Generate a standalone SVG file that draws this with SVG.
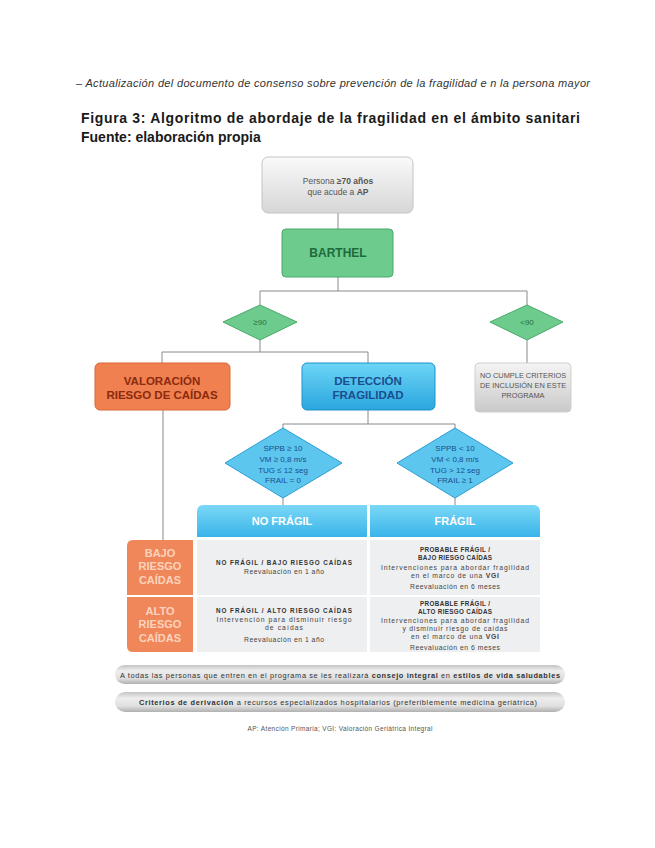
<svg xmlns="http://www.w3.org/2000/svg" width="655" height="848" viewBox="0 0 655 848">
<defs>
<linearGradient id="gTop" x1="0" y1="0" x2="0" y2="1"><stop offset="0" stop-color="#fafafa"/><stop offset="1" stop-color="#d6d6d6"/></linearGradient>
<linearGradient id="gGray" x1="0" y1="0" x2="0" y2="1"><stop offset="0" stop-color="#f4f4f4"/><stop offset="1" stop-color="#c9c9c9"/></linearGradient>
<linearGradient id="gBlue" x1="0" y1="0" x2="0" y2="1"><stop offset="0" stop-color="#6dd5f7"/><stop offset="1" stop-color="#2aa6de"/></linearGradient>
<linearGradient id="gHead" x1="0" y1="0" x2="0" y2="1"><stop offset="0" stop-color="#7bd8f6"/><stop offset="1" stop-color="#39b4e9"/></linearGradient>
<linearGradient id="gBar" x1="0" y1="0" x2="0" y2="1"><stop offset="0" stop-color="#c4c4c4"/><stop offset="0.3" stop-color="#ededed"/><stop offset="0.7" stop-color="#e0e0e0"/><stop offset="1" stop-color="#b0b0b0"/></linearGradient>
<style>
text{font-family:"Liberation Sans",Arial,sans-serif;text-anchor:middle;dominant-baseline:central}
.conn{stroke:#8a8a8a;stroke-width:1;fill:none}
.b{font-weight:bold}
.cell{fill:#eeeff1}
.dg{fill:#6dcb8d;stroke:#4aa96b;stroke-width:1}
.db{fill:#5cc6ee;stroke:#2d9dd4;stroke-width:1}
.dbt{font-size:8px;fill:#1b4e8c}
.orh{font-size:11px;font-weight:bold;fill:#fcd3bd}
.rt{font-size:6.8px;fill:#444}
.rb{font-size:6.3px;font-weight:bold;fill:#333}
</style>
</defs>
<rect width="655" height="848" fill="#ffffff"/>

<g id="header">
<text x="76" y="83" style="text-anchor:start;font-style:italic;font-size:11px;fill:#333" textLength="514" lengthAdjust="spacing">– Actualización del documento de consenso sobre prevención de la fragilidad e n la persona mayor</text>
<text x="81" y="118" style="text-anchor:start;font-weight:900;font-size:14px;fill:#1a1a1a" textLength="499" lengthAdjust="spacing">Figura 3: Algoritmo de abordaje de la fragilidad en el ámbito sanitari</text>
<text x="81" y="137" style="text-anchor:start;font-weight:900;font-size:14px;fill:#1a1a1a">Fuente: elaboración propia</text>
</g>

<g id="connectors">
<path class="conn" d="M338 213V229"/>
<path class="conn" d="M338 277V291"/>
<path class="conn" d="M260 305V291H527V305"/>
<path class="conn" d="M260 340V352"/>
<path class="conn" d="M162 363V352H368V363"/>
<path class="conn" d="M527 340V363"/>
<path class="conn" d="M163 410V540"/>
<path class="conn" d="M368 410V424"/>
<path class="conn" d="M283 428V424H455V428"/>
<path class="conn" d="M283 498V505"/>
<path class="conn" d="M455 498V505"/>
</g>

<g id="n-persona">
<rect x="262" y="157" width="151" height="56" rx="6" fill="url(#gTop)" stroke="#c4c4c4"/>
<text x="338" y="181" style="font-size:8.5px;fill:#555">Persona <tspan class="b">≥70 años</tspan></text>
<text x="338" y="192" style="font-size:8.5px;fill:#555">que acude a <tspan class="b">AP</tspan></text>
</g>

<g id="n-barthel">
<rect x="282" y="229" width="111" height="48" rx="4" fill="#6dcb8d" stroke="#4aa96b"/>
<text x="338" y="253" class="b" style="font-size:12px;fill:#1e6a3a">BARTHEL</text>
</g>

<g id="n-ge90">
<polygon class="dg" points="260,305 297,322 260,340 223,322"/>
<text x="260" y="322" style="font-size:8px;fill:#2a6f42">≥90</text>
</g>

<g id="n-lt90">
<polygon class="dg" points="527,305 563,322 527,340 490,322"/>
<text x="527" y="322" style="font-size:8px;fill:#2a6f42">&lt;90</text>
</g>

<g id="n-valoracion">
<rect x="95" y="363" width="135" height="47" rx="5" fill="#f0804f" stroke="#d8683a"/>
<text x="162" y="381" class="b" style="font-size:11.5px;fill:#8a2a0e">VALORACIÓN</text>
<text x="162" y="395" class="b" style="font-size:11.5px;fill:#8a2a0e">RIESGO DE CAÍDAS</text>
</g>

<g id="n-deteccion">
<rect x="302" y="363" width="133" height="47" rx="5" fill="url(#gBlue)" stroke="#1f92c9"/>
<text x="368" y="381" class="b" style="font-size:11.5px;fill:#1b4e8c">DETECCIÓN</text>
<text x="368" y="395" class="b" style="font-size:11.5px;fill:#1b4e8c">FRAGILIDAD</text>
</g>

<g id="n-nocumple">
<rect x="475" y="363" width="96" height="49" rx="4" fill="url(#gGray)" stroke="#cfcfcf"/>
<text x="523" y="375" style="font-size:7.4px;fill:#555">NO CUMPLE CRITERIOS</text>
<text x="523" y="385" style="font-size:7.4px;fill:#555">DE INCLUSIÓN EN ESTE</text>
<text x="523" y="395" style="font-size:7.4px;fill:#555">PROGRAMA</text>
</g>

<g id="n-criterio-nofragil">
<polygon class="db" points="283,428 342,463 283,498 225,463"/>
<text x="283" y="448" class="dbt">SPPB ≥ 10</text>
<text x="283" y="459" class="dbt">VM ≥ 0,8 m/s</text>
<text x="283" y="470" class="dbt">TUG ≤ 12 seg</text>
<text x="283" y="480" class="dbt">FRAIL = 0</text>
</g>

<g id="n-criterio-fragil">
<polygon class="db" points="455,428 513,463 455,498 397,463"/>
<text x="455" y="448" class="dbt">SPPB &lt; 10</text>
<text x="455" y="459" class="dbt">VM &lt; 0,8 m/s</text>
<text x="455" y="470" class="dbt">TUG &gt; 12 seg</text>
<text x="455" y="480" class="dbt">FRAIL ≥ 1</text>
</g>

<g id="n-head-nofragil">
<path d="M197 537V512Q197 505 204 505H367V537Z" fill="url(#gHead)"/>
<text x="282" y="521" class="b" style="font-size:11px;fill:#ffffff">NO FRÁGIL</text>
</g>

<g id="n-head-fragil">
<path d="M370 537V505H533Q540 505 540 512V537Z" fill="url(#gHead)"/>
<text x="455" y="521" class="b" style="font-size:11px;fill:#ffffff">FRÁGIL</text>
</g>

<g id="n-bajo">
<path d="M127 595V546Q127 540 133 540H193V595Z" fill="#f0875a"/>
<text x="160" y="553" class="orh">BAJO</text>
<text x="160" y="566" class="orh">RIESGO</text>
<text x="160" y="580" class="orh">CAÍDAS</text>
</g>

<g id="n-alto">
<path d="M127 597H193V652H133Q127 652 127 646Z" fill="#f0875a"/>
<text x="160" y="611" class="orh">ALTO</text>
<text x="160" y="624" class="orh">RIESGO</text>
<text x="160" y="638" class="orh">CAÍDAS</text>
</g>

<g id="n-cell-nf-bajo">
<rect class="cell" x="197" y="540" width="170" height="55"/>
<text x="284" y="562" class="rb" textLength="136" lengthAdjust="spacing">NO FRÁGIL / BAJO RIESGO CAÍDAS</text>
<text x="284" y="571" class="rt" textLength="80" lengthAdjust="spacing">Reevaluación en 1 año</text>
</g>

<g id="n-cell-f-bajo">
<rect class="cell" x="370" y="540" width="170" height="55"/>
<text x="455" y="549" class="rb" textLength="70" lengthAdjust="spacing">PROBABLE FRÁGIL /</text>
<text x="455" y="557" class="rb" textLength="74" lengthAdjust="spacing">BAJO RIESGO CAÍDAS</text>
<text x="455" y="567" class="rt" textLength="148" lengthAdjust="spacing">Intervenciones para abordar fragilidad</text>
<text x="455" y="575" class="rt" textLength="88" lengthAdjust="spacing">en el marco de una <tspan class="b">VGI</tspan></text>
<text x="455" y="586" class="rt" textLength="90" lengthAdjust="spacing">Reevaluación en 6 meses</text>
</g>

<g id="n-cell-nf-alto">
<rect class="cell" x="197" y="597" width="170" height="55"/>
<text x="284" y="610" class="rb" textLength="136" lengthAdjust="spacing">NO FRÁGIL / ALTO RIESGO CAÍDAS</text>
<text x="284" y="619" class="rt" textLength="135" lengthAdjust="spacing">Intervención para disminuir riesgo</text>
<text x="284" y="627" class="rt" textLength="38" lengthAdjust="spacing">de caídas</text>
<text x="284" y="639" class="rt" textLength="80" lengthAdjust="spacing">Reevaluación en 1 año</text>
</g>

<g id="n-cell-f-alto">
<rect class="cell" x="370" y="597" width="170" height="55"/>
<text x="455" y="603" class="rb" textLength="70" lengthAdjust="spacing">PROBABLE FRÁGIL /</text>
<text x="455" y="611" class="rb" textLength="74" lengthAdjust="spacing">ALTO RIESGO CAÍDAS</text>
<text x="455" y="620" class="rt" textLength="148" lengthAdjust="spacing">Intervenciones para abordar fragilidad</text>
<text x="455" y="628" class="rt" textLength="105" lengthAdjust="spacing">y disminuir riesgo de caídas</text>
<text x="455" y="636" class="rt" textLength="88" lengthAdjust="spacing">en el marco de una <tspan class="b">VGI</tspan></text>
<text x="455" y="647" class="rt" textLength="90" lengthAdjust="spacing">Reevaluación en 6 meses</text>
</g>

<g id="n-bar-consejo">
<rect x="115" y="665" width="450" height="19" rx="9.5" fill="url(#gBar)"/>
<text x="340" y="675" style="font-size:7.4px;fill:#333" textLength="440" lengthAdjust="spacing">A todas las personas que entren en el programa se les realizará <tspan class="b">consejo integral</tspan> en <tspan class="b">estilos de vida saludables</tspan></text>
</g>

<g id="n-bar-derivacion">
<rect x="115" y="692" width="450" height="20" rx="10" fill="url(#gBar)"/>
<text x="338" y="702" style="font-size:7.4px;fill:#333" textLength="398" lengthAdjust="spacing"><tspan class="b">Criterios de derivación</tspan> a recursos especializados hospitalarios (preferiblemente medicina geriátrica)</text>
</g>

<g id="footnote">
<text x="340" y="728" style="font-size:6.5px;fill:#555" textLength="185" lengthAdjust="spacing">AP: Atención Primaria; VGI: Valoración Geriátrica Integral</text>
</g>
</svg>
